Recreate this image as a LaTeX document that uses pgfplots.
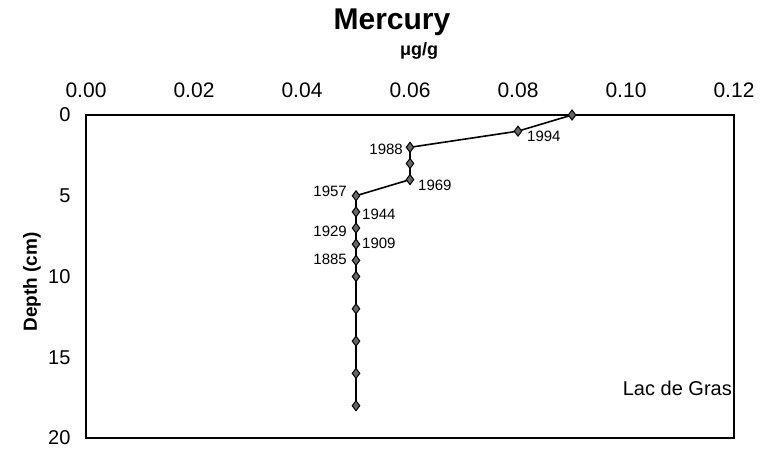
\documentclass[border=0pt]{standalone}
\usepackage{pgfplots}
\pgfplotsset{compat=1.18}
\usepackage{fontspec}
\setmainfont{Liberation Sans}
\begin{document}
\begin{tikzpicture}[x=1pt,y=1pt]
\useasboundingbox (0,0) rectangle (766,457);
\begin{axis}[
  at={(86pt,19pt)}, anchor=south west,
  scale only axis, width=648pt, height=323pt,
  xmin=0, xmax=0.12, ymin=0, ymax=20, y dir=reverse,
  xticklabel pos=upper,
  xtick={0,0.02,0.04,0.06,0.08,0.1,0.12},
  ytick={0,5,10,15,20},
  major tick length=0pt,
  axis line style={line width=1.2pt},
  /pgf/number format/assume math mode=true,
  xticklabel style={font=\fontsize{21}{21}\selectfont, yshift=14pt, /pgf/number format/.cd, fixed, fixed zerofill, precision=2},
  yticklabel style={font=\fontsize{20}{20}\selectfont, xshift=-12pt},
  clip=false,
]
\addplot[black, line width=1.6pt, mark=diamond*, mark size=5pt,
  mark options={fill=gray!80!black, draw=black, line width=1pt, solid}]
  coordinates {
  (0.09,0) (0.08,1) (0.06,2) (0.06,3) (0.06,4) (0.05,5) (0.05,6) (0.05,7)
  (0.05,8) (0.05,9) (0.05,10) (0.05,12) (0.05,14) (0.05,16) (0.05,18)
  };
\tikzset{yr/.style={font=\fontsize{15}{15}\selectfont, inner sep=0pt}}
\node[yr, anchor=west] at (axis cs:0.08,1) [xshift=9pt, yshift=-5pt] {1994};
\node[yr, anchor=east] at (axis cs:0.06,2) [xshift=-7pt, yshift=-2pt] {1988};
\node[yr, anchor=west] at (axis cs:0.06,4) [xshift=8pt, yshift=-6pt] {1969};
\node[yr, anchor=east] at (axis cs:0.05,5) [xshift=-9pt, yshift=4pt] {1957};
\node[yr, anchor=west] at (axis cs:0.05,6) [xshift=6pt, yshift=-2pt] {1944};
\node[yr, anchor=east] at (axis cs:0.05,7) [xshift=-9pt, yshift=-3pt] {1929};
\node[yr, anchor=west] at (axis cs:0.05,8) [xshift=6pt, yshift=1pt] {1909};
\node[yr, anchor=east] at (axis cs:0.05,9) [xshift=-9pt, yshift=1pt] {1885};
\end{axis}
\node[font=\fontsize{20}{20}\selectfont, anchor=east, inner sep=0pt] at (732,69) {Lac de Gras};
\node[font=\bfseries\fontsize{30}{30}\selectfont] at (392,435) {Mercury};
\node[font=\bfseries\fontsize{18}{18}\selectfont] at (419,406) {μg/g};
\node[font=\bfseries\fontsize{19}{19}\selectfont, rotate=90] at (32,175) {Depth (cm)};
\end{tikzpicture}
\end{document}
